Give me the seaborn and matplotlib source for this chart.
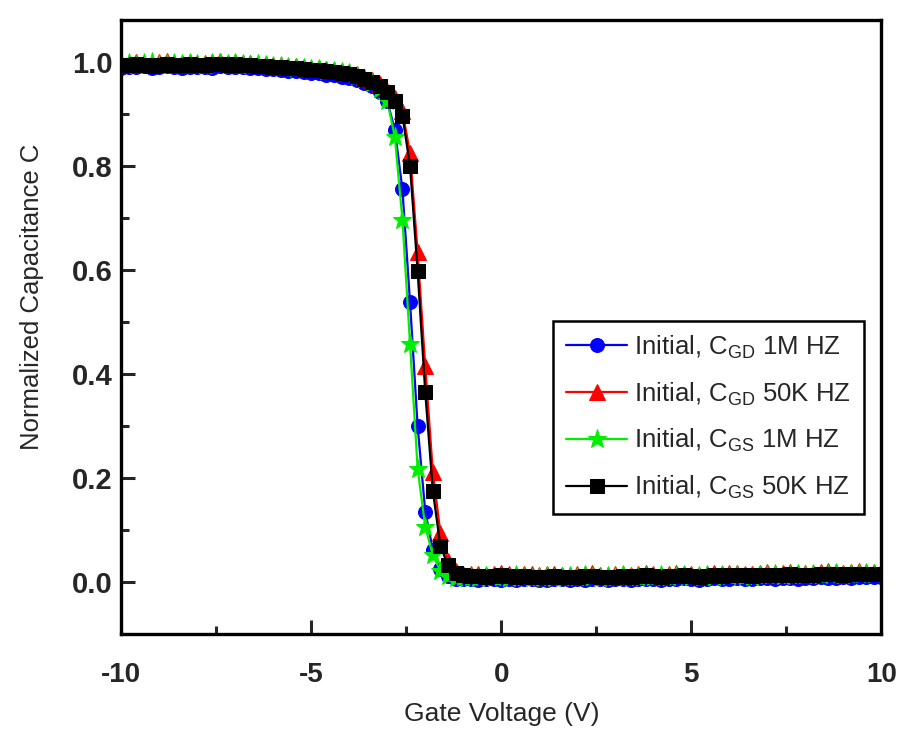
import numpy as np
import pandas as pd
import matplotlib
matplotlib.use("Agg")
import matplotlib.pyplot as plt
import seaborn as sns
from matplotlib.ticker import MultipleLocator

# Gate voltage sweep, 0.2 V step
gate_voltage = np.linspace(-10, 10, 101)

c_gd_1m = [
    0.989, 0.991, 0.990, 0.992, 0.989, 0.991, 0.992, 0.990, 0.988, 0.991,
    0.990, 0.991, 0.989, 0.992, 0.991, 0.990, 0.991, 0.989, 0.988, 0.987,
    0.986, 0.985, 0.983, 0.983, 0.981, 0.979, 0.978, 0.976, 0.975, 0.972,
    0.970, 0.966, 0.960, 0.953, 0.943, 0.925, 0.870, 0.755, 0.538, 0.300,
    0.136, 0.062, 0.025, 0.012, 0.007, 0.006, 0.007, 0.005, 0.006, 0.007,
    0.005, 0.006, 0.004, 0.006, 0.007, 0.005, 0.004, 0.006, 0.007, 0.005,
    0.006, 0.005, 0.007, 0.006, 0.004, 0.006, 0.007, 0.005, 0.006, 0.007,
    0.006, 0.005, 0.007, 0.006, 0.008, 0.006, 0.005, 0.007, 0.008, 0.006,
    0.007, 0.008, 0.006, 0.007, 0.009, 0.008, 0.007, 0.008, 0.009, 0.007,
    0.008, 0.009, 0.010, 0.008, 0.009, 0.010, 0.009, 0.010, 0.011, 0.010,
    0.010,
]

c_gd_50k = [
    0.999, 0.997, 1.001, 0.998, 0.997, 1.000, 1.002, 0.998, 0.999, 1.001,
    0.998, 0.999, 1.001, 1.002, 0.999, 1.000, 0.998, 0.999, 0.997, 0.996,
    0.995, 0.994, 0.993, 0.992, 0.990, 0.989, 0.988, 0.986, 0.985, 0.983,
    0.981, 0.977, 0.972, 0.966, 0.957, 0.945, 0.930, 0.905, 0.825, 0.634,
    0.415, 0.212, 0.094, 0.040, 0.022, 0.016, 0.015, 0.016, 0.014, 0.015,
    0.017, 0.015, 0.014, 0.016, 0.015, 0.013, 0.015, 0.016, 0.014, 0.013,
    0.015, 0.016, 0.017, 0.014, 0.013, 0.015, 0.016, 0.014, 0.016, 0.017,
    0.015, 0.014, 0.016, 0.017, 0.016, 0.015, 0.014, 0.016, 0.018, 0.016,
    0.017, 0.018, 0.016, 0.015, 0.017, 0.019, 0.017, 0.018, 0.020, 0.018,
    0.017, 0.018, 0.020, 0.021, 0.019, 0.018, 0.019, 0.021, 0.019, 0.020,
    0.019,
]

c_gs_1m = [
    0.996, 0.999, 0.995, 0.998, 1.000, 0.994, 0.997, 0.999, 0.996, 0.998,
    0.997, 0.995, 0.999, 0.998, 0.996, 0.998, 0.997, 0.995, 0.996, 0.994,
    0.993, 0.992, 0.991, 0.989, 0.988, 0.986, 0.986, 0.983, 0.983, 0.980,
    0.978, 0.974, 0.968, 0.960, 0.948, 0.925, 0.856, 0.697, 0.458, 0.218,
    0.107, 0.052, 0.022, 0.012, 0.009, 0.010, 0.011, 0.009, 0.012, 0.010,
    0.011, 0.009, 0.013, 0.010, 0.008, 0.011, 0.012, 0.009, 0.010, 0.012,
    0.010, 0.013, 0.011, 0.009, 0.012, 0.010, 0.013, 0.011, 0.010, 0.012,
    0.011, 0.013, 0.010, 0.012, 0.014, 0.011, 0.012, 0.013, 0.011, 0.013,
    0.012, 0.014, 0.012, 0.011, 0.014, 0.013, 0.015, 0.012, 0.014, 0.016,
    0.013, 0.015, 0.014, 0.016, 0.017, 0.014, 0.016, 0.015, 0.017, 0.016,
    0.017,
]

c_gs_50k = [
    0.995, 0.994, 0.996, 0.995, 0.993, 0.995, 0.996, 0.994, 0.995, 0.996,
    0.995, 0.994, 0.996, 0.997, 0.995, 0.996, 0.995, 0.994, 0.993, 0.992,
    0.991, 0.990, 0.989, 0.988, 0.986, 0.985, 0.984, 0.982, 0.981, 0.979,
    0.977, 0.973, 0.968, 0.962, 0.953, 0.942, 0.925, 0.897, 0.800, 0.598,
    0.366, 0.176, 0.069, 0.033, 0.018, 0.013, 0.012, 0.012, 0.011, 0.012,
    0.013, 0.012, 0.011, 0.012, 0.011, 0.010, 0.011, 0.012, 0.011, 0.010,
    0.011, 0.012, 0.012, 0.011, 0.010, 0.011, 0.012, 0.011, 0.012, 0.013,
    0.012, 0.011, 0.012, 0.012, 0.013, 0.012, 0.011, 0.012, 0.013, 0.012,
    0.013, 0.014, 0.013, 0.012, 0.013, 0.014, 0.013, 0.014, 0.015, 0.014,
    0.013, 0.014, 0.015, 0.016, 0.015, 0.014, 0.015, 0.016, 0.015, 0.016,
    0.015,
]

series = [
    (r"Initial, C$_{\mathregular{GD}}$ 1M HZ", c_gd_1m, "#0000ff", "o", 10),
    (r"Initial, C$_{\mathregular{GD}}$ 50K HZ", c_gd_50k, "#ff0000", "^", 11),
    (r"Initial, C$_{\mathregular{GS}}$ 1M HZ", c_gs_1m, "#00ee00", "*", 14),
    (r"Initial, C$_{\mathregular{GS}}$ 50K HZ", c_gs_50k, "#000000", "s", 10),
]

sns.set_style("ticks")
plt.rcParams["font.family"] = ["Liberation Sans", "DejaVu Sans"]
plt.rcParams["mathtext.fontset"] = "custom"
plt.rcParams["mathtext.rm"] = "Liberation Sans"
plt.rcParams["axes.unicode_minus"] = False

fig = plt.figure(figsize=(9.04, 7.56), dpi=100)
ax = fig.add_axes([0.134, 0.161, 0.841, 0.812])

for label, values, color, marker, ms in series:
    df = pd.DataFrame({"V": gate_voltage, "C": values})
    sns.lineplot(data=df, x="V", y="C", ax=ax, color=color, marker=marker,
                 markersize=ms, markeredgecolor=color, linewidth=1.6,
                 label=label)

ax.set_xlim(-10, 10)
ax.set_ylim(-0.1, 1.08)
ax.xaxis.set_major_locator(MultipleLocator(5))
ax.xaxis.set_minor_locator(MultipleLocator(2.5))
ax.yaxis.set_minor_locator(MultipleLocator(0.1))
ax.set_yticks(np.arange(0, 1.01, 0.2))
ax.set_yticklabels(["0.0", "0.2", "0.4", "0.6", "0.8", "1.0"])

ax.tick_params(which="major", direction="in", length=10, width=2.2,
               top=False, right=False)
ax.tick_params(axis="x", which="major", pad=20, labelsize=20)
ax.tick_params(axis="y", which="major", pad=6, labelsize=21)
ax.tick_params(which="minor", direction="in", length=6, width=2.2,
               top=False, right=False)
for lab in ax.get_xticklabels() + ax.get_yticklabels():
    lab.set_fontweight("bold")

for sp in ax.spines.values():
    sp.set_linewidth(2.4)
    sp.set_color("black")

ax.set_xlabel("Gate Voltage (V)", fontsize=19, labelpad=10)
ax.set_ylabel("Normalized Capacitance C", fontsize=18.5, labelpad=20)
ax.yaxis.label.set_y(0.55)

leg = ax.legend(loc="upper left", bbox_to_anchor=(0.568, 0.511),
                borderaxespad=0, fontsize=18.5, handlelength=2.4,
                handletextpad=0.25, labelspacing=0.75, frameon=True,
                fancybox=False, borderpad=0.5)
leg.get_frame().set_edgecolor("black")
leg.get_frame().set_linewidth(1.8)
leg.get_frame().set_alpha(1)

fig.savefig("out.png", dpi=100)
